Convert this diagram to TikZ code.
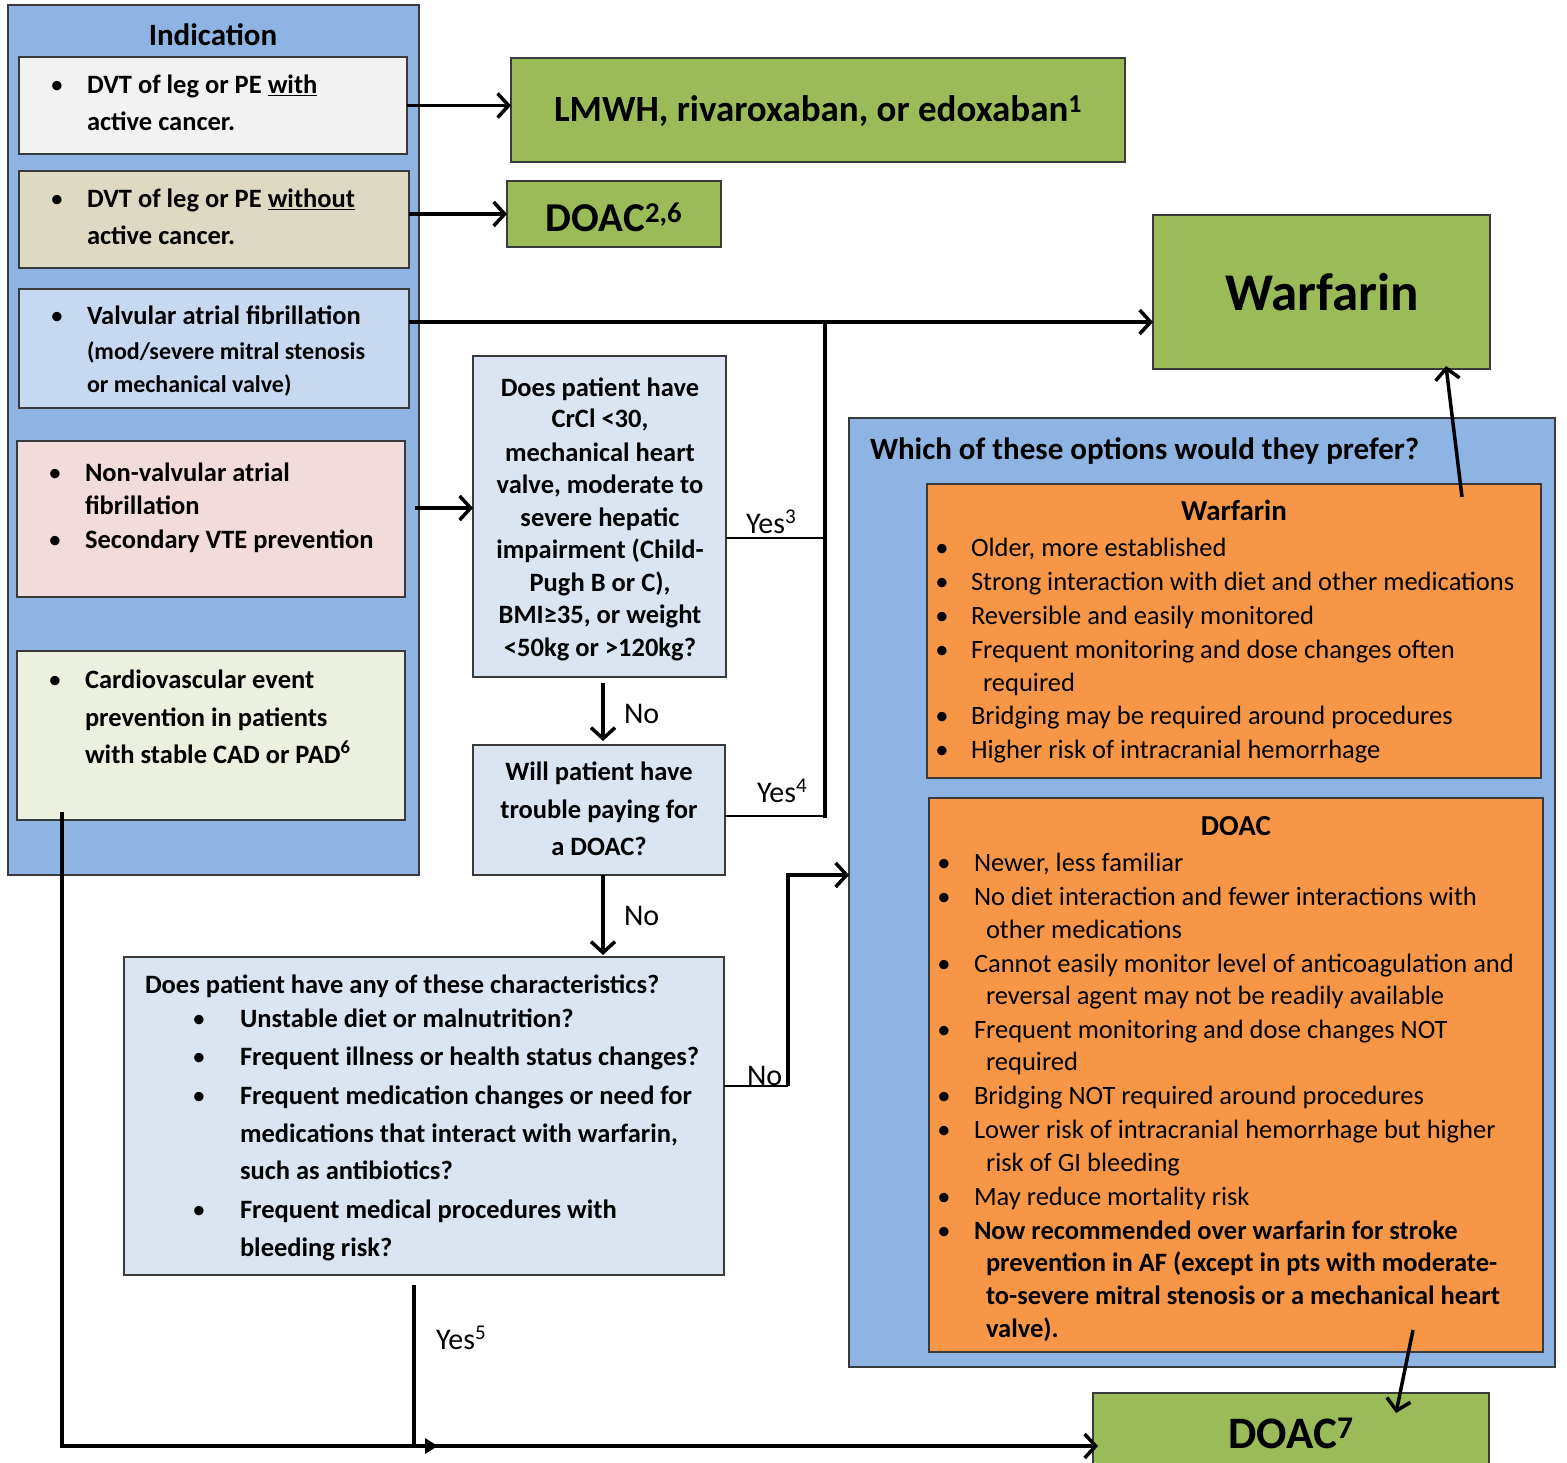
\documentclass[tikz,border=0pt]{standalone}
\usepackage{fontspec}
\setmainfont{Carlito}
\usetikzlibrary{arrows.meta}
\definecolor{panel}{HTML}{8EB4E3}
\definecolor{bxa}{HTML}{F2F2F2}
\definecolor{bxb}{HTML}{DDD9C3}
\definecolor{bxc}{HTML}{C6D9F1}
\definecolor{bxd}{HTML}{F2DCDB}
\definecolor{bxe}{HTML}{EBF1DE}
\definecolor{qbox}{HTML}{DBE5F1}
\definecolor{grn}{HTML}{9BBB59}
\definecolor{org}{HTML}{F79646}
\definecolor{edge}{HTML}{3A3A3A}
\newcommand\myfs{\fontsize{26.5}{30}\selectfont}
\newcommand\mysm{\fontsize{24}{28}\selectfont}
\newcommand\mylab{\fontsize{30}{34}\selectfont}
\begin{document}
\begin{tikzpicture}[x=1pt,y=-1pt,
  box/.style={draw=edge, line width=1.5pt, rectangle, inner sep=0pt, outer sep=0pt, anchor=north west},
  t/.style={anchor=base west, inner sep=0pt, outer sep=0pt, font=\myfs\bfseries},
  tc/.style={anchor=base, inner sep=0pt, outer sep=0pt, font=\myfs\bfseries},
  tr/.style={anchor=base west, inner sep=0pt, outer sep=0pt, font=\myfs},
  bul/.style={anchor=base, inner sep=0pt, outer sep=0pt, font=\myfs},
  lab/.style={anchor=base west, inner sep=0pt, outer sep=0pt, font=\mylab},
  line/.style={line width=3.5pt},
  thinline/.style={line width=2.5pt},
  conn/.style={line width=3.5pt, -{Straight Barb[length=11pt,width=24pt]}},
]
\useasboundingbox (0,0) rectangle (1567,1463);
\fill[white] (0,0) rectangle (1567,1463);

% ---------- panels and boxes ----------
\node[box, fill=panel, minimum width=411pt, minimum height=870pt] (lp) at (8,5) {};
\node[box, fill=bxa, minimum width=388pt, minimum height=97pt] (b1) at (19,57) {};
\node[box, fill=bxb, minimum width=390pt, minimum height=97pt] (b2) at (19,171) {};
\node[box, fill=bxc, minimum width=390pt, minimum height=119pt] (b3) at (19,289) {};
\node[box, fill=bxd, minimum width=388pt, minimum height=156pt] (b4) at (17,441) {};
\node[box, fill=bxe, minimum width=388pt, minimum height=169pt] (b5) at (17,651) {};

\node[box, fill=grn, minimum width=614pt, minimum height=104pt] (lmwh) at (511,58) {};
\node[box, fill=grn, minimum width=214pt, minimum height=66pt] (dc) at (507,181) {};
\node[box, fill=grn, minimum width=337pt, minimum height=154pt] (warf) at (1153,215) {};
\node[box, fill=grn, minimum width=396pt, minimum height=90pt] (d7) at (1093,1393) {};

\node[box, fill=qbox, minimum width=253pt, minimum height=321pt] (q1) at (473,356) {};
\node[box, fill=qbox, minimum width=252pt, minimum height=130pt] (q2) at (473,745) {};
\node[box, fill=qbox, minimum width=600pt, minimum height=318pt] (q3) at (124,957) {};

\node[box, fill=panel, minimum width=706pt, minimum height=949pt] (rp) at (849,418) {};
\node[box, fill=org, minimum width=614pt, minimum height=294pt] (ow) at (927,484) {};
\node[box, fill=org, minimum width=614pt, minimum height=554pt] (od) at (929,798) {};

% ---------- left panel text ----------
\node[tc, font=\fontsize{31}{34}\selectfont\bfseries] (ind) at (213,46) {Indication};

\node[bul] (b1u) at (57,94) {•};
\node[t] (b1a) at (87,94) {DVT of leg or PE \underline{with}};
\node[t] (b1b) at (87,131) {active cancer.};

\node[bul] (b2u) at (57,208) {•};
\node[t] (b2a) at (87,208) {DVT of leg or PE \underline{without}};
\node[t] (b2b) at (87,245) {active cancer.};

\node[bul] (b3u) at (57,325) {•};
\node[t] (b3a) at (87,325) {Valvular atrial fibrillation};
\node[t, font=\mysm\bfseries] (b3b) at (87,360) {(mod/severe mitral stenosis};
\node[t, font=\mysm\bfseries] (b3c) at (87,392) {or mechanical valve)};

\node[bul] (b4u) at (55,481) {•};
\node[t] (b4a) at (85,481) {Non-valvular atrial};
\node[t] (b4b) at (85,514) {fibrillation};
\node[bul] (b4v) at (55,548) {•};
\node[t] (b4c) at (85,548) {Secondary VTE prevention};

\node[bul] (b5u) at (55,688) {•};
\node[t] (b5a) at (85,688) {Cardiovascular event};
\node[t] (b5b) at (85,726) {prevention in patients};
\node[t] (b5c) at (85,763) {with stable CAD or PAD\textsuperscript{6}};

% ---------- result boxes text ----------
\node[tc, font=\fontsize{37}{40}\selectfont\bfseries] (lmwht) at (818,122) {LMWH, rivaroxaban, or edoxaban\textsuperscript{1}};
\node[tc, font=\fontsize{41}{44}\selectfont\bfseries] (dct) at (614,232) {DOAC\textsuperscript{2,6}};
\node[tc, font=\fontsize{53}{56}\selectfont\bfseries] (warft) at (1322,311) {Warfarin};
\node[tc, font=\fontsize{45}{48}\selectfont\bfseries] (d7t) at (1291,1448) {DOAC\textsuperscript{7}};

% ---------- question boxes ----------
\node[tc] (q1a) at (600,396) {Does patient have};
\node[tc] (q1b) at (600,428) {CrCl <30,};
\node[tc] (q1c) at (600,461) {mechanical heart};
\node[tc] (q1d) at (600,493) {valve, moderate to};
\node[tc] (q1e) at (600,526) {severe hepatic};
\node[tc] (q1f) at (600,558) {impairment (Child-};
\node[tc] (q1g) at (600,591) {Pugh B or C),};
\node[tc] (q1h) at (600,623) {BMI≥35, or weight};
\node[tc] (q1i) at (600,656) {<50kg or >120kg?};

\node[tc] (q2a) at (599,780) {Will patient have};
\node[tc] (q2b) at (599,818) {trouble paying for};
\node[tc] (q2c) at (599,855) {a DOAC?};

\node[t] (q3a) at (145,993) {Does patient have any of these characteristics?};
\node[bul] (q3u1) at (199,1027) {•};
\node[t] (q3b) at (240,1027) {Unstable diet or malnutrition?};
\node[bul] (q3u2) at (199,1065) {•};
\node[t] (q3c) at (240,1065) {Frequent illness or health status changes?};
\node[bul] (q3u3) at (199,1104) {•};
\node[t] (q3d) at (240,1104) {Frequent medication changes or need for};
\node[t] (q3e) at (240,1142) {medications that interact with warfarin,};
\node[t] (q3f) at (240,1179) {such as antibiotics?};
\node[bul] (q3u4) at (199,1218) {•};
\node[t] (q3g) at (240,1218) {Frequent medical procedures with};
\node[t] (q3h) at (240,1256) {bleeding risk?};

% ---------- right panel ----------
\node[t, font=\fontsize{31}{34}\selectfont\bfseries] (rpt) at (870,459) {Which of these options would they prefer?};

\node[tc, font=\fontsize{29}{32}\selectfont\bfseries] (owt) at (1234,520) {Warfarin};
\node[bul] (owu1) at (942,556) {•};
\node[tr] (ow1) at (971,556) {Older, more established};
\node[bul] (owu2) at (942,590) {•};
\node[tr] (ow2) at (971,590) {Strong interaction with diet and other medications};
\node[bul] (owu3) at (942,624) {•};
\node[tr] (ow3) at (971,624) {Reversible and easily monitored};
\node[bul] (owu4) at (942,658) {•};
\node[tr] (ow4) at (971,658) {Frequent monitoring and dose changes often};
\node[tr] (ow4b) at (983,691) {required};
\node[bul] (owu5) at (942,724) {•};
\node[tr] (ow5) at (971,724) {Bridging may be required around procedures};
\node[bul] (owu6) at (942,758) {•};
\node[tr] (ow6) at (971,758) {Higher risk of intracranial hemorrhage};

\node[tc, font=\fontsize{29}{32}\selectfont\bfseries] (odt) at (1236,835) {DOAC};
\node[bul] (odu1) at (944,871) {•};
\node[tr] (od1) at (974,871) {Newer, less familiar};
\node[bul] (odu2) at (944,905) {•};
\node[tr] (od2) at (974,905) {No diet interaction and fewer interactions with};
\node[tr] (od2b) at (986,938) {other medications};
\node[bul] (odu3) at (944,972) {•};
\node[tr] (od3) at (974,972) {Cannot easily monitor level of anticoagulation and};
\node[tr] (od3b) at (986,1004) {reversal agent may not be readily available};
\node[bul] (odu4) at (944,1038) {•};
\node[tr] (od4) at (974,1038) {Frequent monitoring and dose changes NOT};
\node[tr] (od4b) at (986,1070) {required};
\node[bul] (odu5) at (944,1104) {•};
\node[tr] (od5) at (974,1104) {Bridging NOT required around procedures};
\node[bul] (odu6) at (944,1138) {•};
\node[tr] (od6) at (974,1138) {Lower risk of intracranial hemorrhage but higher};
\node[tr] (od6b) at (986,1171) {risk of GI bleeding};
\node[bul] (odu7) at (944,1205) {•};
\node[tr] (od7) at (974,1205) {May reduce mortality risk};
\node[bul] (odu8) at (944,1239) {•};
\node[t] (od8) at (974,1239) {Now recommended over warfarin for stroke};
\node[t] (od8b) at (986,1271) {prevention in AF (except in pts with moderate-};
\node[t] (od8c) at (986,1304) {to-severe mitral stenosis or a mechanical heart};
\node[t] (od8d) at (986,1337) {valve).};

% ---------- connector labels ----------
\node[lab] (y3) at (746,533) {Yes\textsuperscript{3}};
\node[lab] (y4) at (757,802) {Yes\textsuperscript{4}};
\node[lab] (n1) at (624,723) {No};
\node[lab] (n2) at (624,925) {No};
\node[lab] (n3) at (747,1085) {No};
\node[lab] (y5) at (436,1349) {Yes\textsuperscript{5}};

% ---------- junction coordinates ----------
\coordinate (jw) at (825,322);
\coordinate (j3) at (825,538);
\coordinate (j4) at (825,816);
\coordinate (a4) at (415,508);
\coordinate (k1) at (788,1086);
\coordinate (k2) at (788,875);
\coordinate (m0) at (62,812);
\coordinate (m1) at (62,1446);
\coordinate (s5) at (414,1285);
\coordinate (wu0) at (1462,497);
\coordinate (wu1) at (1446,366);
\coordinate (du0) at (1413,1330);
\coordinate (du1) at (1396,1413);

% ---------- connectors ----------
\draw[conn] (b1.east) -- (b1.east -| lmwh.west);
\draw[conn] (b2.east |- dc.west) -- (dc.west);
\draw[conn] (b3.east |- jw) -- (jw -| warf.west);
\draw[conn] (a4) -- (a4 -| q1.west);
\draw[thinline] (j3 -| q1.east) -- (j3);
\draw[thinline] (j4 -| q2.east) -- (j4);
\draw[line, line cap=rect] (j4) -- (jw);
\draw[conn] ([yshift=-6pt]q1.south -| 603,0) -- ([yshift=4pt]q2.north -| 603,0);
\draw[conn] (q2.south -| 603,0) -- ([yshift=2pt]q3.north -| 603,0);
\draw[thinline] (k1 -| q3.east) -- (k1);
\draw[conn] (k1) -- (k2) -- (k2 -| rp.west);
\draw[conn] (m0) -- (m1) -- ([xshift=5pt]m1 -| d7.west);
\draw[line, -{Triangle[length=13pt,width=15pt]}] (s5) -- (s5 |- m1) -- ++(24,0);
\draw[conn] (wu0) -- (wu1);
\draw[conn] (du0) -- (du1);
\end{tikzpicture}
\end{document}
